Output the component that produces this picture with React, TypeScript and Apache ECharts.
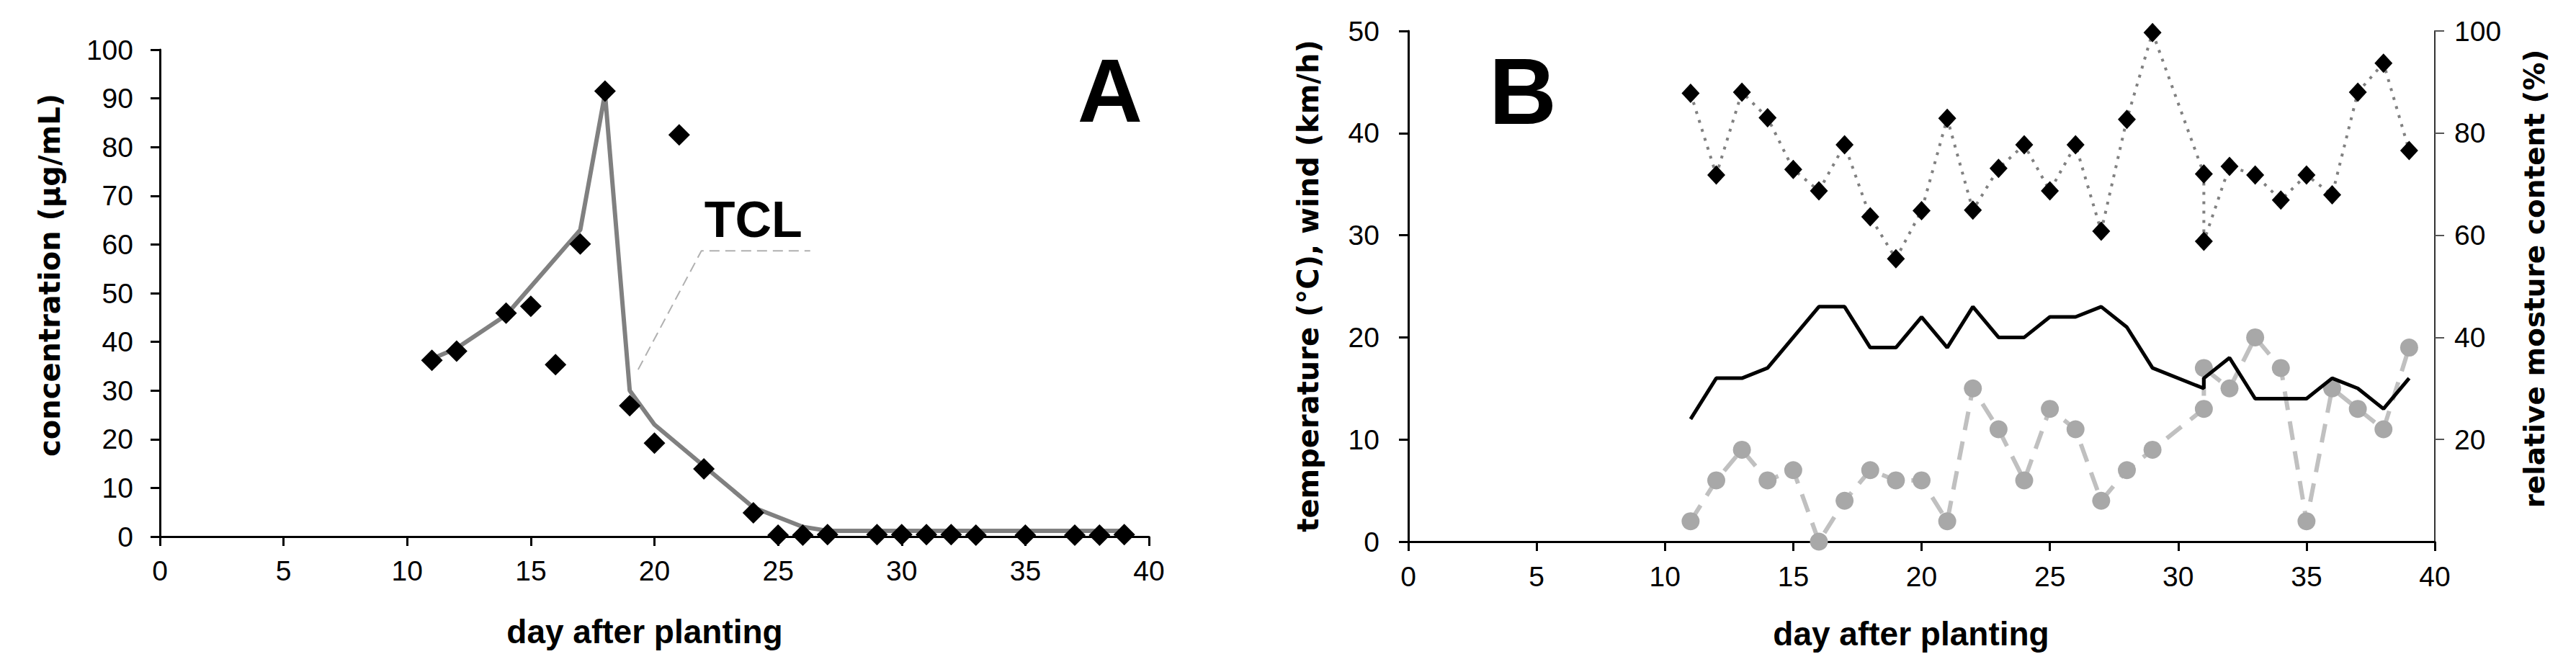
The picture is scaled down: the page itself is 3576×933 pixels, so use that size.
import React, { useEffect, useRef } from "react";
import * as echarts from "echarts";

// ---------- Panel A: TCL concentration ----------
const daysA = [11, 12, 14, 15, 16, 17, 18, 19, 20, 21, 22, 24, 25, 26, 27, 29, 30, 31, 32, 33, 35, 37, 38, 39];
const concA = [36.2, 38.1, 45.9, 47.3, 35.3, 60.1, 91.5, 26.9, 19.2, 82.5, 13.9, 4.9, 0.3, 0.3, 0.4, 0.4, 0.4, 0.4, 0.4, 0.3, 0.3, 0.3, 0.3, 0.4];
const trendDaysA = [11, 12, 14, 17, 18, 19, 20, 22, 24, 26, 27, 29, 30, 31, 32, 33, 35, 37, 38, 39];
const trendValsA = [36.5, 38.7, 45.5, 63, 91, 30, 23, 14.5, 6, 2.0, 1.2, 1.2, 1.2, 1.2, 1.2, 1.2, 1.2, 1.2, 1.2, 1.2];
const leaderDaysA = [19.34, 21.9, 26.3];
const leaderValsA = [34.3, 58.7, 58.7];
const tclLabelPoint = [24, 65.1];
const xTicksA = [0, 40, 5];
const yTicksA = [0, 100, 10];

// ---------- Panel B: weather ----------
const daysB = [11, 12, 13, 14, 15, 16, 17, 18, 19, 20, 21, 22, 23, 24, 25, 26, 27, 28, 29, 31, 31, 32, 33, 34, 35, 36, 37, 38, 39];
const humidityB = [87.8, 71.8, 88, 83, 72.9, 68.7, 77.7, 63.6, 55.4, 64.8, 82.9, 64.9, 73.1, 77.7, 68.7, 77.7, 60.8, 82.7, 99.7, 72, 58.8, 73.5, 71.8, 66.9, 71.8, 67.9, 88, 93.7, 76.6];
const temperatureB = [12, 16, 16, 17, 20, 23, 23, 19, 19, 22, 19, 23, 20, 20, 22, 22, 23, 21, 17, 15, 16, 18, 14, 14, 14, 16, 15, 13, 16];
const windB = [2, 6, 9, 6, 7, 0, 4, 7, 6, 6, 2, 15, 11, 6, 13, 11, 4, 7, 9, 13, 17, 15, 20, 17, 2, 15, 13, 11, 19];
const xTicksB = [0, 40, 5];
const yLeftTicksB = [0, 50, 10];
const yRightTicksB = [0, 100, 20];

const FONT = "'Liberation Sans', Arial, sans-serif";
const WIDE = "'DejaVu Sans', Verdana, sans-serif";

const pairs = (xs: number[], ys: number[]) => xs.map((x, i) => [x, ys[i]]);

const axisLine = (w = 3, c = "#000") => ({ show: true, onZero: false, lineStyle: { color: c, width: w } });
const axisTick = (c = "#000") => ({ show: true, inside: false, length: 13, lineStyle: { color: c, width: 3 } });
const labelStyle = (margin: number) => ({ color: "#000", fontFamily: FONT, fontSize: 39, margin });

export default function App() {
  const ref = useRef<HTMLDivElement>(null);
  useEffect(() => {
    document.body.style.margin = "0";
    if (!ref.current) return;
    const chart = echarts.init(ref.current, undefined, { renderer: "svg" });
    const option: any = {
      animation: false,
      backgroundColor: "#fff",
      grid: [
        { left: 222, right: 3576 - 1595, top: 69, bottom: 933 - 745 },
        { left: 1955, right: 3576 - 3380, top: 43, bottom: 933 - 752 },
      ],
      xAxis: [
        {
          type: "value", gridIndex: 0, min: xTicksA[0], max: xTicksA[1], interval: xTicksA[2],
          axisLine: axisLine(), axisTick: axisTick(), splitLine: { show: false },
          axisLabel: labelStyle(28),
        },
        {
          type: "value", gridIndex: 1, min: xTicksB[0], max: xTicksB[1], interval: xTicksB[2],
          axisLine: axisLine(), axisTick: axisTick(), splitLine: { show: false },
          axisLabel: labelStyle(29),
        },
      ],
      yAxis: [
        {
          type: "value", gridIndex: 0, min: yTicksA[0], max: yTicksA[1], interval: yTicksA[2],
          axisLine: axisLine(), axisTick: axisTick(), splitLine: { show: false },
          axisLabel: labelStyle(37),
        },
        {
          type: "value", gridIndex: 1, min: yLeftTicksB[0], max: yLeftTicksB[1], interval: yLeftTicksB[2],
          axisLine: axisLine(), axisTick: axisTick(), splitLine: { show: false },
          axisLabel: labelStyle(40),
        },
        {
          type: "value", gridIndex: 1, position: "right", min: yRightTicksB[0], max: yRightTicksB[1], interval: yRightTicksB[2],
          axisLine: axisLine(2, "#333"), axisTick: { show: true, length: 13, lineStyle: { color: "#555", width: 2 } },
          splitLine: { show: false },
          axisLabel: { ...labelStyle(27), showMinLabel: false, formatter: (v: number) => (v === 0 ? "" : String(v)) },
        },
      ],
      series: [
        {
          type: "line", xAxisIndex: 0, yAxisIndex: 0, data: pairs(trendDaysA, trendValsA),
          showSymbol: false, symbol: "none", lineStyle: { color: "#808080", width: 6 }, z: 2,
        },
        {
          type: "line", xAxisIndex: 0, yAxisIndex: 0, data: pairs(leaderDaysA, leaderValsA),
          showSymbol: false, symbol: "none", lineStyle: { color: "#B0B0B0", width: 2, type: [14, 8] }, z: 1,
        },
        {
          type: "scatter", xAxisIndex: 0, yAxisIndex: 0, data: pairs(daysA, concA),
          symbol: "diamond", symbolSize: 30, itemStyle: { color: "#000", opacity: 1 }, z: 3,
        },
        {
          type: "scatter", xAxisIndex: 0, yAxisIndex: 0, data: [tclLabelPoint], symbolSize: 0,
          itemStyle: { opacity: 1 },
          label: { show: true, position: "inside", formatter: "TCL", color: "#000", fontFamily: FONT, fontWeight: "bold", fontSize: 70 },
          silent: true, z: 4,
        },
        {
          type: "line", xAxisIndex: 1, yAxisIndex: 1, data: pairs(daysB, windB),
          symbol: "circle", symbolSize: 25, itemStyle: { color: "#A8A8A8" },
          lineStyle: { color: "#C0C0C0", width: 6, type: [26, 16] }, z: 2,
        },
        {
          type: "line", xAxisIndex: 1, yAxisIndex: 1, data: pairs(daysB, temperatureB),
          showSymbol: false, symbol: "none", lineStyle: { color: "#000", width: 5 }, z: 3,
        },
        {
          type: "line", xAxisIndex: 1, yAxisIndex: 2, data: pairs(daysB, humidityB),
          symbol: "diamond", symbolSize: [25, 27], itemStyle: { color: "#000" },
          lineStyle: { color: "#808080", width: 4, type: [4, 9] }, z: 4,
        },
      ],
      graphic: [
        { type: "text", x: 1541, y: 125, style: { text: "A", fill: "#000", font: `bold 125px ${FONT}`, textAlign: "center", textVerticalAlign: "middle" } },
        { type: "text", x: 2114, y: 127, style: { text: "B", fill: "#000", font: `bold 130px ${FONT}`, textAlign: "center", textVerticalAlign: "middle" } },
        { type: "text", x: 895, y: 877, style: { text: "day after planting", fill: "#000", font: `bold 46px ${FONT}`, textAlign: "center", textVerticalAlign: "middle" } },
        { type: "text", x: 2653, y: 880, style: { text: "day after planting", fill: "#000", font: `bold 46px ${FONT}`, textAlign: "center", textVerticalAlign: "middle" } },
        { type: "text", x: 69, y: 382, rotation: Math.PI / 2, style: { text: "concentration (µg/mL)", fill: "#000", font: `bold 40px ${WIDE}`, textAlign: "center", textVerticalAlign: "middle" } },
        { type: "text", x: 1816, y: 397, rotation: Math.PI / 2, style: { text: "temperature (°C), wind (km/h)", fill: "#000", font: `bold 40px ${WIDE}`, textAlign: "center", textVerticalAlign: "middle" } },
        { type: "text", x: 3518, y: 387, rotation: Math.PI / 2, style: { text: "relative mosture content (%)", fill: "#000", font: `bold 39px ${WIDE}`, textAlign: "center", textVerticalAlign: "middle" } },
      ],
    };
    chart.setOption(option);
    return () => chart.dispose();
  }, []);
  return <div ref={ref} style={{ width: 3576, height: 933 }} />;
}
